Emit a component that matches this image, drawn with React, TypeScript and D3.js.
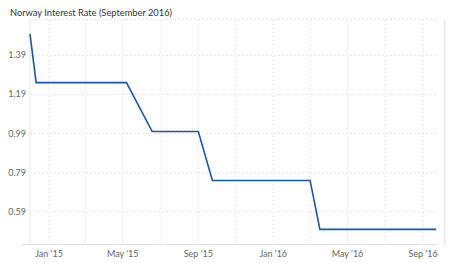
import React from "react";
import * as d3 from "d3";

const title = "Norway Interest Rate (September 2016)";
const dates = [
  "2014-12-01", "2014-12-11", "2015-05-07", "2015-06-18", "2015-09-01",
  "2015-09-24", "2016-03-01", "2016-03-17", "2016-09-22",
];
const rates = [1.5, 1.25, 1.25, 1.0, 1.0, 0.75, 0.75, 0.5, 0.5];
const yTicks = [0.59, 0.79, 0.99, 1.19, 1.39];
const xTickDates = [
  "2015-01-01", "2015-03-01", "2015-05-01", "2015-07-01", "2015-09-01", "2015-11-01",
  "2016-01-01", "2016-03-01", "2016-05-01", "2016-07-01", "2016-09-01",
];
const xTickLabels = ["Jan '15", "", "May '15", "", "Sep '15", "", "Jan '16", "", "May '16", "", "Sep '16"];

const W = 450, H = 263;
const left = 30, right = 436, top = 19.5, bottom = 244;
const font = "Lato, 'Source Sans Pro', sans-serif";

export default function App() {
  const parse = d3.utcParse("%Y-%m-%d");
  const data = dates.map((d, i) => ({ date: parse(d)!, v: rates[i] }));
  const x = d3.scaleUtc().domain([parse(dates[0])!, parse(dates[dates.length - 1])!]).range([left, right]);
  const y = d3.scaleLinear().domain([0.425, 1.573]).range([bottom, top]);
  const line = d3.line<{ date: Date; v: number }>().x(d => x(d.date)).y(d => y(d.v));
  const grid = "#e6e6e6";
  return (
    <svg width={W} height={H} style={{ position: "absolute", left: 0, top: 0, background: "#fff" }}>
      <text x={10} y={15.5} fontFamily={font} fontSize={10} fill="#333" textLength={162} lengthAdjust="spacingAndGlyphs">{title}</text>
      <line x1={left} x2={right} y1={top} y2={top} stroke={grid} strokeDasharray="2,2" />
      {yTicks.map(t => (
        <g key={t}>
          <line x1={left} x2={right} y1={y(t)} y2={y(t)} stroke={grid} strokeDasharray="2,2" />
          <text x={26} y={y(t) + 3} textAnchor="end" fontFamily={font} fontSize={9} fill="#666">{t.toFixed(2)}</text>
        </g>
      ))}
      {xTickDates.map((d, i) => {
        const xp = x(parse(d)!);
        return (
          <g key={d}>
            <line x1={xp} x2={xp} y1={top} y2={bottom} stroke={grid} strokeDasharray="2,2" />
            {xTickLabels[i] && (
              <text x={xp} y={256.5} textAnchor="middle" fontFamily={font} fontSize={9} fill="#666">{xTickLabels[i]}</text>
            )}
          </g>
        );
      })}
      <line x1={left} x2={left} y1={top} y2={bottom} stroke="#e6e6e6" />
      <line x1={22} x2={right} y1={bottom + 0.5} y2={bottom + 0.5} stroke="#e0e0e0" />
      <line x1={444.5} x2={444.5} y1={20} y2={245} stroke="#e8e8e8" strokeWidth={1.5} />
      <path d={line(data)!} fill="none" stroke="#1c56a8" strokeWidth={1.6} />
    </svg>
  );
}
